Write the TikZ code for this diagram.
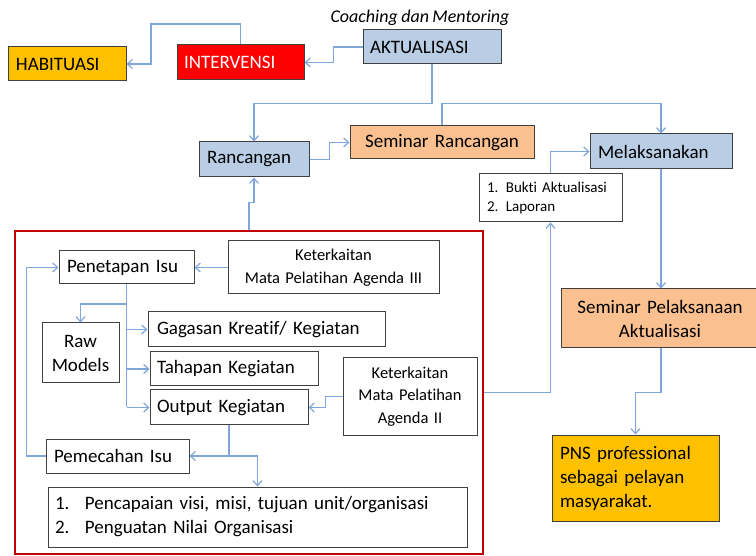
\documentclass[tikz,border=0pt]{standalone}
\usepackage{fontspec}
\setmainfont{Carlito}[Ligatures=NoCommon, WordSpace=0.85]
\usetikzlibrary{arrows.meta}
\definecolor{habyellow}{HTML}{FFC000}
\definecolor{intvred}{HTML}{FF0000}
\definecolor{aktblue}{HTML}{B9CDE5}
\definecolor{semorange}{HTML}{FAC090}
\definecolor{edgegray}{HTML}{404040}
\definecolor{linkblue}{HTML}{7FA6DA}
\definecolor{framered}{HTML}{C00000}
\newcommand{\bigtxt}{\fontsize{19}{24}\selectfont}
\newcommand{\midtxt}{\fontsize{16.5}{22.5}\selectfont}
\newcommand{\smalltxt}{\fontsize{15}{19}\selectfont}
\begin{document}
\begin{tikzpicture}[x=1pt,y=-1pt,
  box/.style={draw=edgegray, line width=1pt, inner xsep=8pt, inner ysep=0pt, align=left, font=\bigtxt},
  link/.style={draw=linkblue, line width=1.2pt, -{Straight Barb[length=5pt,width=9pt]}},
  trunk/.style={draw=linkblue, line width=1.2pt}]
\useasboundingbox (0,0) rectangle (756,556);

\node [draw=framered, line width=2.2pt, minimum width=468pt, minimum height=323pt, inner sep=0pt] (frame) at (249,392.5) {};

\node [font=\fontsize{18}{22}\selectfont\itshape] (coach) at (420,18) {Coaching dan Mentoring};
\node [box, fill=habyellow, text width=102pt, minimum height=34pt] (hab) at (67,64) {HABITUASI};
\node [box, fill=intvred, text=white, inner xsep=7pt, text width=113pt, minimum height=35pt] (intv) at (240.5,62.5) {INTERVENSI};
\node [box, fill=aktblue, inner xsep=7pt, text width=124pt, minimum height=34pt] (akt) at (432,47) {AKTUALISASI};
\node [box, fill=aktblue, text width=94pt, minimum height=35pt] (ranc) at (254,159.5) {Rancangan};
\node [box, fill=semorange, align=center, text width=168pt, minimum height=33pt] (semr) at (442,142.5) {Seminar Rancangan};
\node [box, fill=aktblue, text width=126pt, minimum height=35pt] (mel) at (661,151.5) {Melaksanakan};
\node [box, fill=white, font=\smalltxt, text width=127pt, minimum height=48pt] (bukti) at (550.5,198) {1. Bukti Aktualisasi\\2. Laporan};
\node [box, fill=semorange, align=center, text width=182pt, minimum height=59pt] (sempel) at (660,318.5) {Seminar Pelaksanaan\\Aktualisasi};
\node [box, fill=habyellow, text width=151pt, minimum height=86pt] (pns) at (635.5,478) {PNS professional\\sebagai pelayan\\masyarakat.};

\node [box, text width=119pt, minimum height=33pt] (pen) at (126.5,267.5) {Penetapan Isu};
\node [box, align=center, font=\midtxt, text width=195pt, minimum height=53pt] (ket3) at (333.5,267.5) {Keterkaitan\\Mata Pelatihan Agenda III};
\node [box, align=center, text width=61pt, minimum height=60pt] (raw) at (80.5,353) {Raw\\Models};
\node [box, inner xsep=9pt, text width=219pt, minimum height=35pt] (gag) at (266.5,329.5) {Gagasan Kreatif/ Kegiatan};
\node [box, inner xsep=7pt, text width=154pt, minimum height=34pt] (tah) at (234,369) {Tahapan Kegiatan};
\node [box, inner xsep=7pt, text width=144pt, minimum height=35pt] (out) at (229,407.5) {Output Kegiatan};
\node [box, align=center, font=\midtxt, text width=118pt, minimum height=77pt] (ket2) at (410,396.5) {Keterkaitan\\Mata Pelatihan\\Agenda II};
\node [box, text width=127pt, minimum height=34pt] (pem) at (117.5,456) {Pemecahan Isu};
\node [box, inner xsep=7pt, text width=405pt, minimum height=60pt] (tuj) at (257.5,517) {\makebox[30pt][l]{1.}Pencapaian visi, misi, tujuan unit/organisasi\\\makebox[30pt][l]{2.}Penguatan Nilai Organisasi};

\draw [link] (akt.west) -- ++(-29,0) |- (intv.east);
\draw [link] (intv.north) |- (151,24) |- (hab.east);
\draw [link] (akt.south) -- ++(0,39) -| (ranc.north);
\draw [link] (ranc.east) -- ++(20,0) |- (semr.west);
\draw [link] (semr.north) -- ++(0,-22) -| (mel.north);
\draw [link] (bukti.north) |- (mel.west);
\draw [link] (mel.south) -- (mel.south |- sempel.north);
\draw [link] (sempel.south -| mel.south) -- ++(0,44) -| (pns.north);
\draw [link] (frame.east) -| (bukti.south);
\draw [link] (frame.north) -- ++(0,-27) -| (ranc.south);

\draw [link] (ket3.west) -- (pen.east);
\draw [trunk] (pen.south) -- (pen.south |- out.west);
\draw [link] (pen.south |- 0,304) -| (raw.north);
\draw [link] (pen.south |- gag.west) -- (gag.west);
\draw [link] (pen.south |- tah.west) -- (tah.west);
\draw [link] (pen.south |- out.west) -- (out.west);
\draw [link] (ket2.west) -- ++(-17,0) |- (out.east);
\draw [link] (out.south) |- (pem.east);
\draw [link] (out.south |- pem.east) -| (tuj.north);
\draw [link] (pem.west) -- ++(-19,0) |- (pen.west);
\end{tikzpicture}
\end{document}
